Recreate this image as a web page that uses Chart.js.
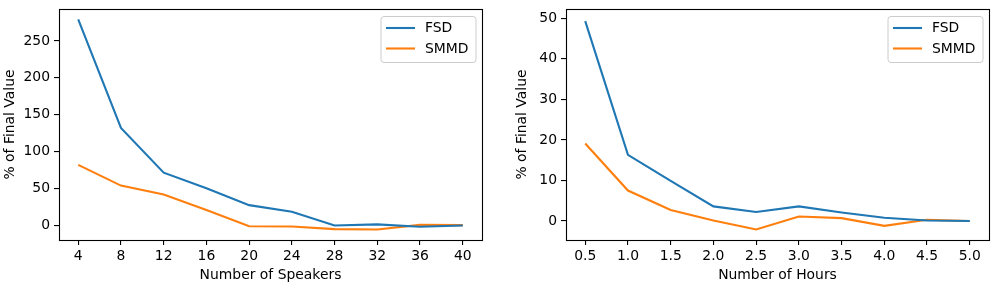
<!DOCTYPE html>
<html>
<head>
<meta charset="utf-8">
<script src="https://cdn.jsdelivr.net/npm/chart.js@4.4.1/dist/chart.umd.min.js"></script>
<style>
  html, body { margin: 0; padding: 0; background: #fff; }
  #wrap { position: relative; width: 993px; height: 286px; }
  .box { position: absolute; top: 0; height: 286px; }
</style>
</head>
<body>
<div id="wrap">
  <div class="box" style="left:0;width:495px"><canvas id="left"></canvas></div>
  <div class="box" style="left:512px;width:481px"><canvas id="right"></canvas></div>
</div>
<script>
// left panel: speakers
var speakers = [4, 8, 12, 16, 20, 24, 28, 32, 36, 40];
var fsdSpeakers = [279, 132, 71.5, 50.5, 27.5, 18.5, 0, 1.5, -1.8, 0];
var smmdSpeakers = [82, 54, 42, 21, -1, -1.4, -5, -5.5, 0.8, 0.5];
var speakerYTicks = [0, 50, 100, 150, 200, 250];

// right panel: hours
var hours = [0.5, 1.0, 1.5, 2.0, 2.5, 3.0, 3.5, 4.0, 4.5, 5.0];
var fsdHours = [49.3, 16.3, 9.9, 3.6, 2.2, 3.6, 2.1, 0.8, 0.1, 0];
var smmdHours = [19.1, 7.5, 2.7, 0.1, -2.1, 1.1, 0.7, -1.2, 0.3, 0];
var hourYTicks = [0, 10, 20, 30, 40, 50];

var FONT = "'DejaVu Sans', sans-serif";
Chart.defaults.font.family = FONT;
Chart.defaults.font.size = 13.9;
Chart.defaults.color = '#000';

function pts(xs, ys) {
  return xs.map(function (x, i) { return { x: x, y: ys[i] }; });
}

// frame + legend in matplotlib style
var mplPlugin = {
  id: 'mpl',
  afterDatasetsDraw: function (chart) {
    var ctx = chart.ctx, a = chart.chartArea;
    ctx.save();
    ctx.strokeStyle = '#000';
    ctx.lineWidth = 1.1;
    ctx.strokeRect(Math.round(a.left) + 0.5, Math.round(a.top) + 0.5,
      Math.round(a.right - a.left), Math.round(a.bottom - a.top));

    // legend
    ctx.font = '13.9px ' + FONT;
    var ds = chart.data.datasets;
    var tw = 0;
    ds.forEach(function (d) { tw = Math.max(tw, ctx.measureText(d.label).width); });
    var w = 5.5 + 29 + 10 + tw + 7;
    var h = 46;
    var x0 = a.right - 6.5 - w, y0 = a.top + 7;
    ctx.beginPath();
    ctx.roundRect(x0 + 0.5, y0 + 0.5, w, h, 3);
    ctx.fillStyle = 'rgba(255,255,255,0.8)';
    ctx.fill();
    ctx.strokeStyle = '#cccccc';
    ctx.lineWidth = 1;
    ctx.stroke();
    ds.forEach(function (d, i) {
      var yy = y0 + 12 + i * 20.5;
      ctx.beginPath();
      ctx.moveTo(x0 + 5.5, yy);
      ctx.lineTo(x0 + 34.5, yy);
      ctx.strokeStyle = d.borderColor;
      ctx.lineWidth = 2.1;
      ctx.stroke();
      ctx.fillStyle = '#000';
      ctx.textBaseline = 'middle';
      ctx.textAlign = 'left';
      ctx.fillText(d.label, x0 + 44.5, yy + 0.5);
    });
    ctx.restore();
  }
};

function makeChart(id, xs, a, b, xTicks, yTicks, xMin, xMax, yMin, yMax, xTitle, yWidth, rightPad, xFmt) {
  new Chart(document.getElementById(id), {
    type: 'line',
    data: {
      datasets: [
        { label: 'FSD', data: pts(xs, a), borderColor: '#1f77b4', borderWidth: 2.1, pointRadius: 0, tension: 0, fill: false },
        { label: 'SMMD', data: pts(xs, b), borderColor: '#ff7f0e', borderWidth: 2.1, pointRadius: 0, tension: 0, fill: false }
      ]
    },
    options: {
      responsive: true,
      maintainAspectRatio: false,
      animation: false,
      layout: { padding: { top: 9, right: rightPad, left: 0, bottom: 0 } },
      plugins: { legend: { display: false }, tooltip: { enabled: false } },
      scales: {
        x: {
          type: 'linear', min: xMin, max: xMax,
          afterBuildTicks: function (s) { s.ticks = xTicks.map(function (v) { return { value: v }; }); },
          afterFit: function (s) { s.height = 46; s.paddingLeft = 0; s.paddingRight = 0; },
          grid: { drawOnChartArea: false, drawTicks: true, tickLength: 5, color: '#000', lineWidth: 1.1 },
          border: { display: false },
          ticks: { padding: 3, maxRotation: 0, autoSkip: false, callback: xFmt },
          title: { display: true, text: xTitle, padding: { top: 0, bottom: 2 } }
        },
        y: {
          min: yMin, max: yMax,
          afterBuildTicks: function (s) { s.ticks = yTicks.map(function (v) { return { value: v }; }); },
          afterFit: function (s) { s.width = yWidth; s.paddingTop = 0; s.paddingBottom = 0; },
          grid: { drawOnChartArea: false, drawTicks: true, tickLength: 5, color: '#000', lineWidth: 1.1 },
          border: { display: false },
          ticks: { padding: 4, autoSkip: false },
          title: { display: true, text: '% of Final Value', padding: { top: 2, bottom: 0 } }
        }
      }
    },
    plugins: [mplPlugin]
  });
}

makeChart('left', speakers, fsdSpeakers, smmdSpeakers, speakers, speakerYTicks,
  2.2, 41.8, -19.7, 293.2, 'Number of Speakers', 59, 13,
  function (v) { return String(v); });

makeChart('right', hours, fsdHours, smmdHours, hours, hourYTicks,
  0.275, 5.225, -4.7, 52.3, 'Number of Hours', 54, 4,
  function (v) { return Number(v).toFixed(1); });
</script>
</body>
</html>
